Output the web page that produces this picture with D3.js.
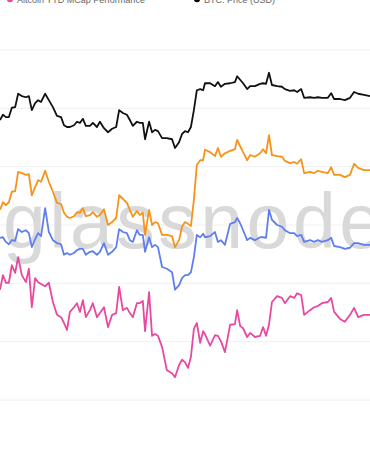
<!DOCTYPE html>
<html lang="en">
<head>
    <meta charset="UTF-8">
    <title>altcoin vs btc</title>
    <script src="https://cdn.jsdelivr.net/npm/d3@7/dist/d3.min.js"></script>
    <style>
        body { margin:0; background:#fff; }
        .grid line { stroke:#f0f0f0; stroke-width:1px; }
        .legend text { font-family:"Liberation Sans", Arial, sans-serif; font-size:9px; fill:#666; }
        .wm { font-family:"Liberation Sans", Arial, sans-serif; font-size:77px; letter-spacing:3.5px; fill:#d9d9d9; }
    </style>
</head>
<body>
<div id="chart"></div>
<script>
    // sample positions (days), shared by all series
    var days = [0,0.8,1.6,2.4,3.2,4.1,4.9,5.9,7.0,7.8,8.6,9.5,10.3,11.1,12.2,13.2,14.3,15.4,16.5,17.3,18.1,18.9,20.0,20.8,21.6,22.4,23.2,24.3,25.1,26.2,27.0,28.1,29.2,30.3,31.4,32.2,33.2,34.3,35.1,35.9,37.0,37.8,38.6,39.2,40.3,41.1,41.9,42.7,43.8,45.1,46.5,47.3,48.4,49.2,50.0,
        50.8,51.6,52.4,53.2,54.1,54.9,55.4,56.8,58.1,58.9,59.7,60.8,62.2,63.5,64.1,64.9,65.7,66.8,67.6,68.9,70.3,71.1,71.9,72.7,73.5,74.9,76.2,77.0,78.4,79.5,80.3,81.4,82.2,83.8,84.9,85.9,87.0,88.6,89.5,90.3,91.9,93.2,94.6,95.7,96.8,98.4,100];

    var btcPrice = [4.80,4.89,4.85,4.85,5.01,5.02,5.25,5.21,5.19,5.21,4.97,5.09,5.14,5.11,5.25,5.14,5.02,4.87,4.85,4.71,4.68,4.68,4.71,4.77,4.75,4.82,4.70,4.70,4.75,4.68,4.77,4.66,4.59,4.65,4.68,4.97,4.92,4.89,4.80,4.70,4.77,4.75,4.75,4.47,4.77,4.59,4.63,4.61,4.49,4.49,4.47,4.32,4.42,4.56,4.61,
        4.59,4.68,4.97,5.31,5.33,5.31,5.43,5.43,5.38,5.45,5.37,5.42,5.43,5.45,5.55,5.49,5.43,5.33,5.38,5.38,5.42,5.43,5.42,5.61,5.40,5.38,5.37,5.33,5.30,5.31,5.28,5.33,5.18,5.19,5.18,5.19,5.18,5.18,5.26,5.16,5.16,5.14,5.18,5.28,5.25,5.23,5.21];

    var orangeSeries = [3.26,3.39,3.34,3.39,3.57,3.58,3.91,3.89,3.86,3.87,3.51,3.65,3.77,3.74,3.93,3.74,3.57,3.38,3.36,3.21,3.14,3.12,3.15,3.22,3.21,3.29,3.15,3.17,3.22,3.14,3.17,3.27,3.00,3.05,3.12,3.51,3.45,3.38,3.26,3.14,3.24,3.17,3.21,2.83,3.26,3.00,3.05,3.03,2.83,2.83,2.81,2.62,2.74,2.97,3.05,
        3.02,2.98,3.43,4.03,4.11,4.11,4.29,4.25,4.18,4.32,4.17,4.23,4.27,4.30,4.46,4.35,4.25,4.11,4.20,4.17,4.23,4.30,4.23,4.54,4.20,4.18,4.17,4.10,4.06,4.08,4.05,4.13,3.89,3.91,3.89,3.93,3.91,3.89,3.99,3.86,3.86,3.82,3.86,4.05,3.98,3.94,3.94];

    var blueSeries = [2.78,2.79,2.71,2.67,2.74,2.73,2.93,2.88,2.91,2.86,2.62,2.76,2.86,2.81,3.29,2.88,2.74,2.69,2.67,2.49,2.52,2.49,2.52,2.57,2.59,2.59,2.49,2.54,2.55,2.49,2.54,2.69,2.49,2.54,2.62,2.93,2.88,2.86,2.74,2.71,2.91,2.83,2.83,2.54,2.79,2.62,2.66,2.62,2.28,2.25,2.19,1.89,1.97,2.09,2.14,
        2.14,2.19,2.45,2.83,2.79,2.85,2.79,2.81,2.88,2.71,2.74,2.66,3.02,3.05,3.12,3.03,2.91,2.74,2.78,2.74,2.79,2.79,2.78,3.26,3.09,3.00,2.97,2.91,2.86,2.86,2.81,2.83,2.71,2.74,2.71,2.74,2.71,2.74,2.78,2.64,2.62,2.59,2.61,2.69,2.69,2.66,2.66];

    var altcoinYtd = [1.89,2.14,2.01,2.01,2.31,2.18,2.45,2.14,2.02,2.25,1.59,2.09,2.02,1.99,1.95,2.01,1.68,1.46,1.42,1.32,1.20,1.51,1.59,1.66,1.51,1.71,1.42,1.54,1.66,1.42,1.49,1.59,1.25,1.46,1.49,1.94,1.54,1.58,1.49,1.42,1.66,1.66,1.70,1.18,1.85,1.10,1.13,1.10,0.91,0.51,0.46,0.39,0.60,0.69,0.65,
        0.55,0.74,1.22,1.32,0.98,1.18,1.13,0.93,1.11,1.10,1.01,0.82,1.29,1.30,1.54,1.27,1.23,1.08,1.15,1.08,1.10,1.25,1.10,1.29,1.68,1.78,1.75,1.66,1.78,1.75,1.83,1.80,1.46,1.54,1.59,1.61,1.66,1.68,1.75,1.51,1.39,1.34,1.46,1.58,1.42,1.46,1.46];

    var gridTicks = [0,1,2,3,4,5,6];

    var seriesList = [
        {name:"Altcoin YTD MCap Performance", color:"#e8489f", values:altcoinYtd},
        {name:"blue", color:"#5f7ff0", values:blueSeries},
        {name:"orange", color:"#f7931a", values:orangeSeries},
        {name:"BTC: Price (USD)", color:"#111111", values:btcPrice}
    ];
    var legendItems = [
        {name:"Altcoin YTD MCap Performance", color:"#e8489f"},
        {name:"BTC: Price (USD)", color:"#000000"}
    ];

    var W = 370, H = 450;
    var svg = d3.select("#chart").append("svg").attr("width",W).attr("height",H);

    var x = d3.scaleLinear().domain([0,100]).range([0,W]);
    var y = d3.scaleLinear().domain([0,6]).range([400,50]);

    // gridlines
    svg.append("g").attr("class","grid")
        .selectAll("line").data(gridTicks).enter().append("line")
        .attr("x1",0).attr("x2",W)
        .attr("y1",d => y(d)).attr("y2",d => y(d));

    // watermark
    svg.append("text").attr("class","wm")
        .attr("x",3).attr("y",248)
        .text("glassnode");

    var line = d3.line()
        .x((d,i) => x(days[i]))
        .y(d => y(d));

    svg.append("g").selectAll("path").data(seriesList).enter().append("path")
        .attr("d", d => line(d.values))
        .attr("fill","none")
        .attr("stroke", d => d.color)
        .attr("stroke-width",1.8)
        .attr("stroke-linejoin","round");

    // legend (cut at top)
    var lg = svg.append("g").attr("class","legend")
        .selectAll("g").data(legendItems).enter().append("g")
        .attr("transform",(d,i) => "translate(" + (10 + i*187) + ",-1)");
    lg.append("circle").attr("r",3.2).attr("fill",d => d.color);
    lg.append("text").attr("x",7).attr("y",3.5).text(d => d.name);
</script>
</body>
</html>
